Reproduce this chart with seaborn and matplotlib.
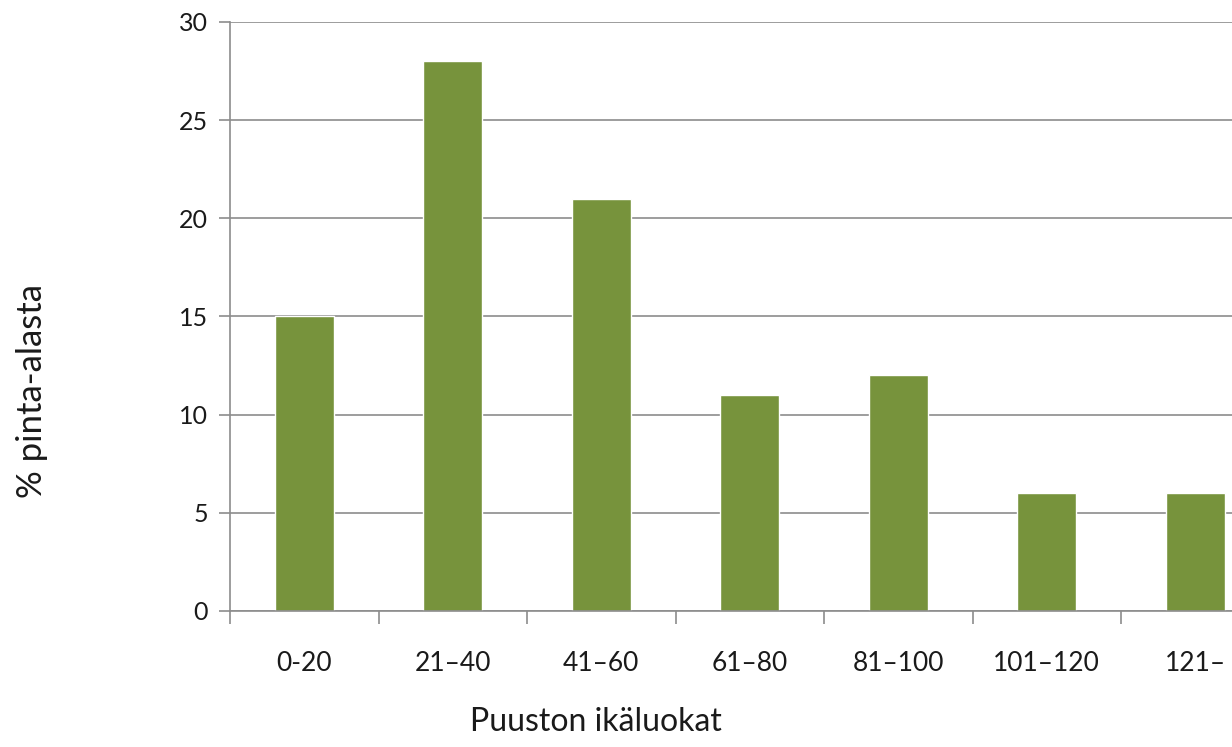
import numpy as np
import pandas as pd
import matplotlib
matplotlib.use("Agg")
import matplotlib.pyplot as plt
import seaborn as sns

# data
ikaluokat = ["0-20", "21–40", "41–60", "61–80", "81–100", "101–120", "121–"]
osuus = [15, 28, 21, 11, 12, 6, 6]
y_ticks = [0, 5, 10, 15, 20, 25, 30]

df = pd.DataFrame({"ikaluokka": ikaluokat, "osuus": osuus})

sns.set_theme(style="white")
plt.rcParams["font.family"] = ["Lato", "DejaVu Sans"]

fig = plt.figure(figsize=(12.32, 7.47), dpi=100)
# axes runs past the right edge like in the original (last class is clipped)
ax = fig.add_axes([230 / 1232, 1 - 611 / 747, 1039.5 / 1232, 589 / 747])

sns.barplot(data=df, x="ikaluokka", y="osuus", color="#77933C",
            width=0.4, saturation=1, ax=ax)

ax.set_ylim(0, 30)
ax.set_xlim(-0.5, len(ikaluokat) - 0.5)
ax.set_yticks(y_ticks)
ax.yaxis.grid(True, color="#8c8c8c", linewidth=1.2)
ax.set_axisbelow(True)

for s in ["top", "right"]:
    ax.spines[s].set_visible(False)
for s in ["left", "bottom"]:
    ax.spines[s].set_color("#8c8c8c")
    ax.spines[s].set_linewidth(1.2)

# tick marks between the classes, labels centred under bars
ax.set_xticks(np.arange(len(ikaluokat) + 1) - 0.5, minor=True)
ax.tick_params(axis="x", which="minor", direction="out", length=9,
               width=1.2, color="#8c8c8c", bottom=True)
ax.tick_params(axis="x", which="major", length=0, pad=29,
               labelsize=19, labelcolor="#1a1a1a")
ax.tick_params(axis="y", direction="out", length=8, width=1.2,
               color="#8c8c8c", left=True, pad=8,
               labelsize=18, labelcolor="#1a1a1a")

ax.set_xlabel("Puuston ikäluokat", fontsize=23, color="#1a1a1a")
ax.xaxis.set_label_coords((596 - 230) / 1039.5, -0.163)
ax.set_ylabel("% pinta-alasta", fontsize=25, color="#1a1a1a")
ax.yaxis.set_label_coords(-0.175, 0.3735)

fig.savefig("out.png", dpi=100)
